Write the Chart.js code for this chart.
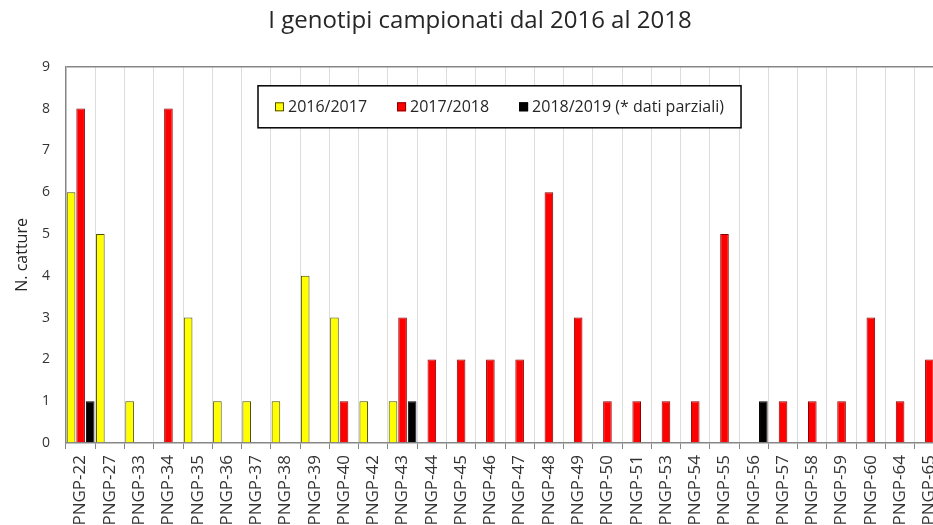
<!DOCTYPE html>
<html>
<head>
<meta charset="utf-8">
<script src="https://cdn.jsdelivr.net/npm/chart.js@4.4.1/dist/chart.umd.min.js"></script>
<style>
  html, body { margin: 0; padding: 0; background: #fff; overflow: hidden; }
  #wrap { position: absolute; left: 0; top: 0; width: 960px; height: 543px; }
</style>
</head>
<body>
<div id="wrap"><canvas id="myChart" width="960" height="543"></canvas></div>
<script>
var categories = ['PNGP-22', 'PNGP-27', 'PNGP-33', 'PNGP-34', 'PNGP-35', 'PNGP-36', 'PNGP-37', 'PNGP-38',
  'PNGP-39', 'PNGP-40', 'PNGP-42', 'PNGP-43', 'PNGP-44', 'PNGP-45', 'PNGP-46', 'PNGP-47', 'PNGP-48',
  'PNGP-49', 'PNGP-50', 'PNGP-51', 'PNGP-53', 'PNGP-54', 'PNGP-55', 'PNGP-56', 'PNGP-57', 'PNGP-58',
  'PNGP-59', 'PNGP-60', 'PNGP-64', 'PNGP-65'];
var seriesLabels = ['2016/2017', '2017/2018', '2018/2019 (* dati parziali)'];
var catture1617 = [6, 5, 1, 0, 3, 1, 1, 1, 4, 3, 1, 1, 0, 0, 0, 0, 0, 0, 0, 0, 0, 0, 0, 0, 0, 0, 0, 0, 0, 0];
var catture1718 = [8, 0, 0, 8, 0, 0, 0, 0, 0, 1, 0, 3, 2, 2, 2, 2, 6, 3, 1, 1, 1, 1, 5, 0, 1, 1, 1, 3, 1, 2];
var catture1819 = [1, 0, 0, 0, 0, 0, 0, 0, 0, 0, 0, 1, 0, 0, 0, 0, 0, 0, 0, 0, 0, 0, 0, 1, 0, 0, 0, 0, 0, 0];
var yMax = 9;

var FONT = '"Open Sans", "DejaVu Sans", sans-serif';

// title is centred on the whole canvas, not on the padded area
var titleCentre = {
  id: 'titleCentre',
  afterLayout: function(chart) {
    if (chart.titleBlock) {
      chart.titleBlock.left = 0;
      chart.titleBlock.right = chart.width;
    }
  }
};

// legend drawn as a framed box inside the plot, like the original
var legendBox = {
  id: 'legendBox',
  afterDraw: function(chart) {
    var ctx = chart.ctx, area = chart.chartArea, sets = chart.data.datasets;
    var sw = 9, gapTxt = 4, gapItem = 30, pad = 17, bh = 42;
    ctx.save();
    ctx.font = '16px ' + FONT;
    var widths = sets.map(function(d) { return ctx.measureText(d.label).width; });
    var content = 0;
    widths.forEach(function(w) { content += sw + gapTxt + w; });
    content += gapItem * (sets.length - 1);
    var bw = content + pad * 2;
    var bx = 258, by = area.top + 19;
    ctx.fillStyle = '#fff';
    ctx.fillRect(bx, by, bw, bh);
    ctx.strokeStyle = '#000';
    ctx.lineWidth = 1.5;
    ctx.strokeRect(bx, by, bw, bh);
    var x = bx + pad, cy = by + bh / 2;
    ctx.textBaseline = 'middle';
    sets.forEach(function(d, i) {
      ctx.fillStyle = d.backgroundColor;
      ctx.fillRect(x, cy - sw / 2, sw, sw);
      ctx.strokeStyle = d.borderColor;
      ctx.lineWidth = 1;
      ctx.strokeRect(x + 0.5, cy - sw / 2 + 0.5, sw - 1, sw - 1);
      ctx.fillStyle = '#262626';
      ctx.fillText(d.label, x + sw + gapTxt, cy + 1);
      x += sw + gapTxt + widths[i] + gapItem;
    });
    ctx.restore();
  }
};

var chart = new Chart(document.getElementById('myChart'), {
  type: 'bar',
  data: {
    labels: categories,
    datasets: [{
      label: seriesLabels[0],
      data: catture1617,
      backgroundColor: '#ffff00',
      borderColor: '#4d4d00',
      borderWidth: 1
    }, {
      label: seriesLabels[1],
      data: catture1718,
      backgroundColor: '#ff0000',
      borderColor: '#8b0000',
      borderWidth: 1
    }, {
      label: seriesLabels[2],
      data: catture1819,
      backgroundColor: '#000000',
      borderColor: '#000000',
      borderWidth: 1
    }]
  },
  options: {
    responsive: false,
    animation: false,
    devicePixelRatio: 1,
    layout: { padding: { left: 0, right: 16, top: 0, bottom: 0 } },
    datasets: { bar: { categoryPercentage: 0.98, barPercentage: 0.9 } },
    plugins: {
      legend: { display: false },
      tooltip: { enabled: false },
      title: {
        display: true,
        text: 'I genotipi campionati dal 2016 al 2018',
        color: '#262626',
        font: { family: FONT, size: 24, weight: 'normal' },
        padding: { top: 7, bottom: 31 }
      }
    },
    scales: {
      x: {
        grid: {
          display: true,
          offset: true,
          color: '#dcdcdc',
          tickColor: '#868686',
          tickLength: 6,
          lineWidth: 1
        },
        border: { display: true, color: '#868686', width: 1.5 },
        ticks: {
          autoSkip: false,
          minRotation: 90,
          maxRotation: 90,
          padding: 6,
          color: '#333',
          font: { family: FONT, size: 17 }
        },
        afterFit: function(scale) { scale.height = 100; }
      },
      y: {
        min: 0,
        max: yMax,
        ticks: {
          stepSize: 1,
          padding: 16,
          color: '#333',
          font: { family: FONT, size: 14 }
        },
        grid: {
          drawTicks: false,
          lineWidth: 1.5,
          color: function(c) { return c.tick && c.tick.value === yMax ? '#868686' : 'rgba(0,0,0,0)'; }
        },
        border: { display: true, color: '#868686', width: 1.5 },
        title: {
          display: true,
          text: 'N. catture',
          color: '#262626',
          font: { family: FONT, size: 16 },
          padding: { top: 13, bottom: 0 }
        },
        afterFit: function(scale) { scale.width = 66; }
      }
    }
  },
  plugins: [titleCentre, legendBox]
});
</script>
</body>
</html>
